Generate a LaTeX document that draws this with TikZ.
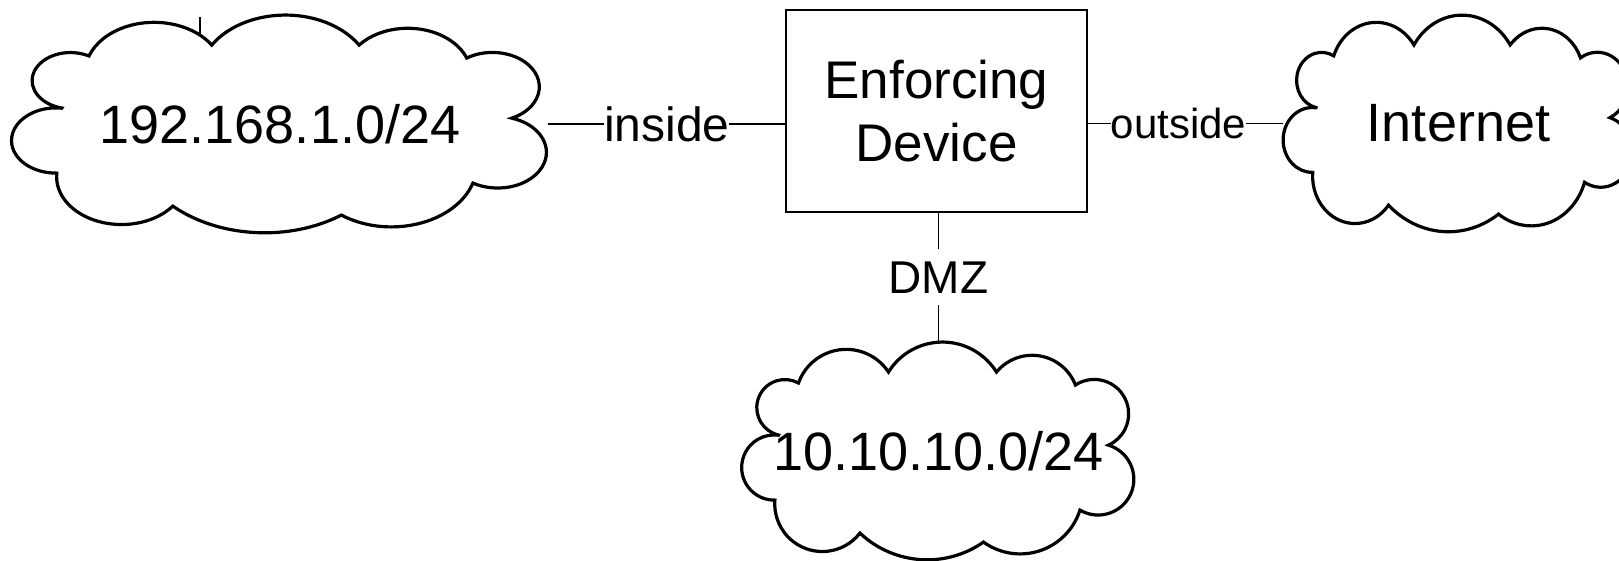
\documentclass[tikz,border=0pt]{standalone}
\usepackage{fontspec}
\setmainfont{Liberation Sans}

\tikzset{
  netnode/.style={inner sep=0pt, font=\fontsize{54}{64}\selectfont},
  cloudline/.style={line width=3.2pt, miter limit=4},
  device/.style={draw, line width=1.3pt, minimum width=301pt, minimum height=202pt,
    align=center, font=\fontsize{53}{63.5}\selectfont},
  link/.style={line width=1.2pt},
  port/.style={fill=white, inner xsep=0pt, inner ysep=12pt},
}

% cloud outline, 393 x 218 round its centre (y downwards)
\newcommand\cloudoutline{
  (-160,-16) arc[start angle=103.1, end angle=298.9, radius=28.1]
  arc[start angle=-160.4, end angle=-33.5, radius=50.7]
  arc[start angle=-148.1, end angle=-31.9, radius=63.6]
  arc[start angle=-140.4, end angle=-20.9, radius=46.3]
  arc[start angle=-123.2, end angle=65.6, radius=34.4]
  arc[start angle=-73.2, end angle=120.6, radius=35.7]
  arc[start angle=17.5, end angle=125.8, radius=62.7]
  arc[start angle=55.0, end angle=133.3, radius=98.1]
  arc[start angle=37.8, end angle=184.6, radius=47.6]
  arc[start angle=88.9, end angle=277.3, radius=32.6]
  -- cycle}

\begin{document}
\begin{tikzpicture}[x=1pt, y=-1pt]
  \useasboundingbox (0,0) rectangle (1619,560);
  \node[device] (dev) at (936.5,111) {Enforcing\\Device};
  \node[netnode, left of=dev, node distance=656.5pt, yshift=-13pt,
    minimum width=536pt, minimum height=218pt] (lan) {192.168.1.0/24};
  \node[netnode, right of=dev, node distance=522pt, yshift=-12.5pt,
    minimum width=350pt, minimum height=217pt] (inet) {Internet};
  \node[netnode, below of=dev, node distance=340pt, xshift=2pt,
    minimum width=393pt, minimum height=218pt] (dmz) {10.10.10.0/24};
  \foreach \cl/\sx/\sy in {lan/1.364/1, inet/0.891/0.995, dmz/1/1}
    \draw[cloudline, shift={(\cl.center)}, xscale=\sx, yscale=\sy] \cloudoutline;
  \draw[link] (lan.east) -- node[port, font=\fontsize{48}{58}\selectfont] {inside} (lan.east -| dev.west);
  \draw[link] (dev.east |- inet.west) -- node[port, pos=0.465, font=\fontsize{42}{50}\selectfont] {outside} (inet.west);
  \draw[link] (dev.south -| dmz.north) -- node[port, font=\fontsize{46}{55}\selectfont] {DMZ} (dmz.north);
  \coordinate (stub) at (200,17);
  \coordinate (stubend) at (200,34);
  \draw[link] (stub) -- (stubend);
\end{tikzpicture}
\end{document}
